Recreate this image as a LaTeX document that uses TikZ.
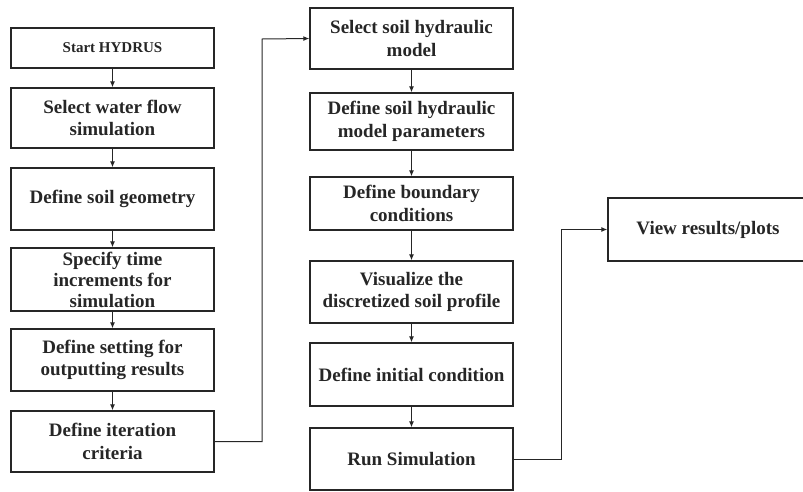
\documentclass[tikz,border=0pt]{standalone}
\usepackage{fontspec}
\setmainfont{Liberation Serif}
\usetikzlibrary{arrows.meta}
\definecolor{ink}{HTML}{262626}

\begin{document}
\begin{tikzpicture}[x=1pt,y=-1pt,
    font=\bfseries\fontsize{19}{22.5}\selectfont,
    block/.style={draw=ink,line width=1.4pt,text=ink,align=center,
        minimum width=203pt,inner sep=0pt}]
    \useasboundingbox (0,0) rectangle (803,491);

    % left column
    \node[block,minimum height=40pt,font=\bfseries\fontsize{15}{18}\selectfont] (Start) at (112.5,48) {Start HYDRUS};
    \node[block,minimum height=60pt] (Flow) at (112.5,118) {Select water flow\\simulation};
    \node[block,minimum height=62pt] (Geometry) at (112.5,199) {Define soil geometry};
    \node[block,minimum height=63pt,font=\bfseries\fontsize{19}{21}\selectfont] (Time) at (112.5,279.5) {Specify time\\increments for\\simulation};
    \node[block,minimum height=62pt] (Output) at (112.5,360) {Define setting for\\outputting results};
    \node[block,minimum height=61pt] (Iteration) at (112.5,441.5) {Define iteration\\criteria};

    % middle column
    \node[block,minimum height=61pt] (Model) at (411.5,38.5) {Select soil hydraulic\\model};
    \node[block,minimum height=57pt] (Params) at (411.5,121.5) {Define soil hydraulic\\model parameters};
    \node[block,minimum height=53pt] (Boundary) at (411.5,203.5) {Define boundary\\conditions};
    \node[block,minimum height=62pt] (Profile) at (411.5,292) {Visualize the\\discretized soil profile};
    \node[block,minimum height=63pt] (Initial) at (411.5,374.5) {Define initial condition};
    \node[block,minimum height=62pt] (Run) at (411.5,459) {Run Simulation};

    % right
    \node[block,minimum width=200pt,minimum height=63pt] (View) at (708,229.5) {View results/plots};

    \coordinate (bendA) at (262,39);
    \coordinate (bendB) at (561,229.5);

    \begin{scope}[every path/.style={draw=ink,line width=1pt,-{Latex[length=6pt,width=5pt]}}]
       \draw (Start) -- (Flow);
       \draw (Flow) -- (Geometry);
       \draw (Geometry) -- (Time);
       \draw (Time) -- (Output);
       \draw (Output) -- (Iteration);
       \draw (Iteration.east) -| (bendA) -- (Model.west);
       \draw (Model) -- (Params);
       \draw (Params) -- (Boundary);
       \draw (Boundary) -- (Profile);
       \draw (Profile) -- (Initial);
       \draw (Initial) -- (Run);
       \draw (Run.east) -| (bendB) -- (View.west);
    \end{scope}
\end{tikzpicture}
\end{document}
